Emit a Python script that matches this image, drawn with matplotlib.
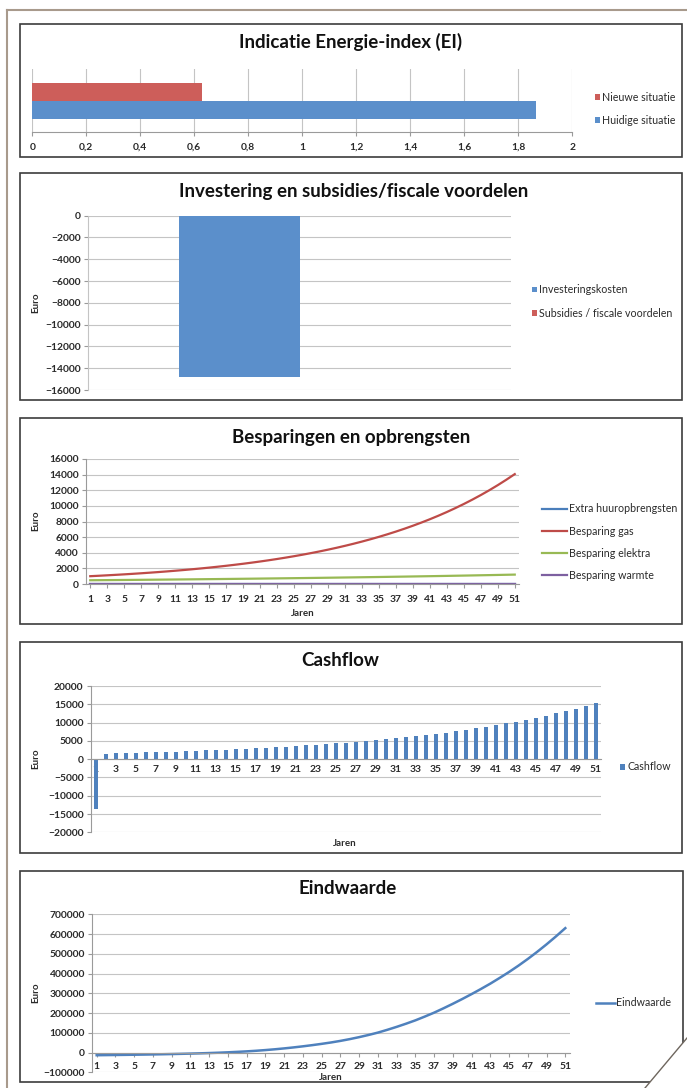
import matplotlib
matplotlib.use("Agg")
import matplotlib.pyplot as plt
from matplotlib.patches import Rectangle, Polygon
from matplotlib.lines import Line2D
import numpy as np

W, H = 687, 1088

# ---- data ----
ei_labels = ["Nieuwe situatie", "Huidige situatie"]
ei_values = [0.627, 1.864]

inv_labels = ["Investeringskosten", "Subsidies / fiscale voordelen"]
inv_values = [-14770, 0]

years = list(range(1, 52))
huur = [0] * 51
gas = [1000, 1054, 1112, 1172, 1235, 1302, 1373, 1448, 1526, 1609,
       1697, 1789, 1886, 1988, 2096, 2210, 2330, 2457, 2590, 2731,
       2879, 3035, 3200, 3374, 3557, 3750, 3954, 4168, 4395, 4633,
       4885, 5150, 5430, 5725, 6035, 6363, 6709, 7073, 7457, 7862,
       8289, 8739, 9213, 9714, 10241, 10797, 11384, 12002, 12654, 13341,
       14065]
elektra = [480, 489, 498, 507, 516, 526, 536, 546, 556, 566,
           577, 587, 598, 609, 621, 632, 644, 656, 668, 680,
           693, 706, 719, 732, 746, 760, 774, 788, 803, 818,
           833, 848, 864, 880, 896, 913, 930, 947, 965, 983,
           1001, 1019, 1038, 1058, 1077, 1097, 1118, 1138, 1159, 1181,
           1203]
warmte = [0] * 51
besparing_labels = ["Extra huuropbrengsten", "Besparing gas", "Besparing elektra", "Besparing warmte"]

cashflow = [-13600, 1543, 1610, 1679, 1751, 1828, 1909, 1994, 2082, 2175,
            2274, 2376, 2484, 2597, 2717, 2842, 2974, 3113, 3258, 3411,
            3572, 3741, 3919, 4106, 4303, 4510, 4728, 4956, 5198, 5451,
            5718, 5998, 6294, 6605, 6931, 7276, 7639, 8020, 8422, 8845,
            9290, 9758, 10251, 10772, 11318, 11894, 12502, 13140, 13813, 14522,
            15268]

eindwaarde = [-13500, -12900, -12300, -11700, -11000, -10300, -9500, -8600, -7600, -6500,
              -5300, -4000, -2500, -800, 1200, 3500, 6000, 9000, 12500, 16500,
              21000, 26000, 31500, 37500, 44000, 51000, 59000, 68000, 78000, 89000,
              101000, 115000, 130000, 146000, 163000, 182000, 202000, 224000, 247000, 271000,
              296000, 322000, 349000, 378000, 408000, 440000, 474000, 510000, 548000, 588000,
              630000]

BAR_BLUE = "#5B8FCB"
BAR_RED = "#CD5E5A"
LINE_COLORS = ["#4A7EBB", "#BE4B48", "#98B954", "#7D60A0"]
GRID = "#C4C4C4"
AXIS = "#9A9A9A"
TXT = "#2A2A2A"
FONT = "Lato"
TICK_FS = 7.4
LEG_FS = 7.7
TITLE_FS = 13.5

plt.rcParams["font.family"] = [FONT, "DejaVu Sans"]

fig = plt.figure(figsize=(W / 100, H / 100), dpi=100)
fig.patch.set_facecolor("white")


def fx(x):
    return x / W


def fy(y):
    return 1 - y / H


def px_axes(x0, y0, x1, y1):
    return fig.add_axes([fx(x0), fy(y1), (x1 - x0) / W, (y1 - y0) / H])


def box(x0, y0, x1, y1):
    fig.add_artist(Rectangle((fx(x0), fy(y1)), (x1 - x0) / W, (y1 - y0) / H,
                             transform=fig.transFigure, fill=False, ec="#3C3C3C", lw=1.2))


def title(x, y, s):
    fig.text(fx(x), fy(y), s, ha="center", va="center", fontsize=TITLE_FS, fontweight="bold", color="#111")


def euro(y):
    fig.text(fx(36), fy(y), "Euro", rotation=90, ha="center", va="center", fontsize=7,
             fontweight="bold", color=TXT)


def jaren(x, y):
    fig.text(fx(x), fy(y), "Jaren", ha="center", va="center", fontsize=7, fontweight="bold", color=TXT)


def base_style(ax):
    for s in ax.spines.values():
        s.set_visible(False)
    ax.set_facecolor("none")
    ax.tick_params(labelsize=TICK_FS, labelcolor=TXT, color=AXIS, length=3, width=0.8)


def weight(ax):
    # Excel labels look heavy in the scan
    for lab in ax.get_xticklabels() + ax.get_yticklabels():
        lab.set_fontweight("bold")


def legend(ax, x, y, **kw):
    opts = dict(loc="center left", bbox_to_anchor=(fx(x), fy(y)), bbox_transform=fig.transFigure,
                frameon=False, fontsize=LEG_FS, borderpad=0, borderaxespad=0, labelcolor=TXT)
    opts.update(kw)
    ax.legend(**opts)


# page border
fig.add_artist(Line2D([fx(7), fx(7)], [fy(10), fy(1088)], transform=fig.transFigure, color="#A89A8C", lw=1.5))
fig.add_artist(Line2D([fx(7), fx(687)], [fy(10), fy(10)], transform=fig.transFigure, color="#A89A8C", lw=1.5))

# ---- 1: Energie-index ----
box(20, 24, 682, 157)
title(351, 42, "Indicatie Energie-index (EI)")
ax1 = px_axes(32.3, 69, 572.3, 132)
base_style(ax1)
ax1.barh([2.25], [ei_values[0]], height=1, color=BAR_RED, label=ei_labels[0])
ax1.barh([1.25], [ei_values[1]], height=1, color=BAR_BLUE, label=ei_labels[1])
ax1.set_xlim(0, 2)
ax1.set_ylim(0, 3.5)
xt = np.round(np.arange(0, 2.01, 0.2), 1)
ax1.set_xticks(xt)
ax1.set_xticklabels([f"{v:g}".replace(".", ",") for v in xt])
ax1.set_yticks([])
ax1.grid(axis="x", color=GRID, lw=0.8)
ax1.set_axisbelow(True)
ax1.spines["bottom"].set_visible(True)
ax1.spines["bottom"].set_color(AXIS)
ax1.tick_params(axis="x", pad=5)
weight(ax1)
legend(ax1, 595, 109, handlelength=0.45, handleheight=0.45, handletextpad=0.25, labelspacing=1.1)

# ---- 2: Investering ----
box(20, 173, 682, 400)
title(354, 191, "Investering en subsidies/fiscale voordelen")
ax2 = px_axes(88, 215.7, 511, 390)
base_style(ax2)
ax2.bar([1.25], [inv_values[0]], width=1, color=BAR_BLUE, label=inv_labels[0])
ax2.bar([2.25], [inv_values[1]], width=1, color=BAR_RED, label=inv_labels[1])
ax2.set_xlim(0, 3.5)
ax2.set_ylim(-16000, 0)
ax2.set_yticks(range(-16000, 1, 2000))
ax2.set_xticks([])
ax2.grid(axis="y", color=GRID, lw=0.8)
ax2.set_axisbelow(True)
ax2.spines["left"].set_visible(True)
ax2.spines["left"].set_color(GRID)
ax2.tick_params(axis="y", pad=2)
weight(ax2)
euro(303)
legend(ax2, 532, 301.5, handlelength=0.45, handleheight=0.45, handletextpad=0.25, labelspacing=1.15)

# ---- 3: Besparingen ----
box(20, 418, 682, 624)
title(351, 437, "Besparingen en opbrengsten")
ax3 = px_axes(86, 459, 519, 584)
base_style(ax3)
for series, lab, col in zip([huur, gas, elektra, warmte], besparing_labels, LINE_COLORS):
    ax3.plot(years, series, color=col, lw=1.6, label=lab)
ax3.set_xlim(0.5, 51.5)
ax3.set_ylim(0, 16000)
ax3.set_yticks(range(0, 16001, 2000))
ax3.set_xticks(years[::2])
ax3.grid(axis="y", color=GRID, lw=0.8)
ax3.set_axisbelow(True)
for s in ("left", "bottom"):
    ax3.spines[s].set_visible(True)
    ax3.spines[s].set_color(AXIS)
ax3.tick_params(axis="x", pad=5)
ax3.tick_params(axis="y", pad=2)
weight(ax3)
euro(521)
jaren(303, 613)
legend(ax3, 541.7, 542.2, handlelength=2.4, handletextpad=0.15, labelspacing=1.05)

# ---- 4: Cashflow ----
box(20, 642, 682, 853)
title(340, 660, "Cashflow")
ax4 = px_axes(90.5, 686, 600.5, 832.3)
base_style(ax4)
ax4.bar(years, cashflow, width=0.4, color="#4F81BD", label="Cashflow")
ax4.set_xlim(0.5, 51.5)
ax4.set_ylim(-20000, 20000)
ax4.set_yticks(range(-20000, 20001, 5000))
ax4.set_xticks(years[::2])
ax4.grid(axis="y", color=GRID, lw=0.8)
ax4.set_axisbelow(True)
ax4.spines["left"].set_visible(True)
ax4.spines["left"].set_color(AXIS)
ax4.spines["bottom"].set_visible(True)
ax4.spines["bottom"].set_color(AXIS)
ax4.spines["bottom"].set_position(("data", 0))
ax4.tick_params(axis="x", pad=4, length=0)
ax4.tick_params(axis="y", pad=2)
weight(ax4)
euro(759)
jaren(345, 843)
legend(ax4, 620, 767, handlelength=0.45, handleheight=0.45, handletextpad=0.25)

# ---- 5: Eindwaarde ----
box(20, 871, 683, 1082)
title(348, 889, "Eindwaarde")
ax5 = px_axes(92, 914.3, 570, 1072.3)
base_style(ax5)
ax5.plot(years, eindwaarde, color="#4F81BD", lw=1.8, label="Eindwaarde")
ax5.set_xlim(0.5, 51.5)
ax5.set_ylim(-100000, 700000)
ax5.set_yticks(range(-100000, 700001, 100000))
ax5.set_xticks(years[::2])
ax5.grid(axis="y", color=GRID, lw=0.8)
ax5.set_axisbelow(True)
ax5.spines["left"].set_visible(True)
ax5.spines["left"].set_color(AXIS)
ax5.spines["bottom"].set_visible(True)
ax5.spines["bottom"].set_color(AXIS)
ax5.spines["bottom"].set_position(("data", 0))
ax5.tick_params(axis="x", pad=4, length=3)
ax5.tick_params(axis="y", pad=2)
weight(ax5)
euro(993)
jaren(331, 1077)
legend(ax5, 596, 1003, handlelength=1.75, handletextpad=0.15)

# page curl at bottom right
fig.add_artist(Polygon([[fx(645), fy(1088)], [fx(687), fy(1088)], [fx(687), fy(1038)]],
                       closed=True, transform=fig.transFigure, fc="white", ec="none"))
fig.add_artist(Line2D([fx(645), fx(687)], [fy(1088), fy(1038)], transform=fig.transFigure,
                      color="#6E665E", lw=1.0))

fig.savefig("out.png", dpi=100)
